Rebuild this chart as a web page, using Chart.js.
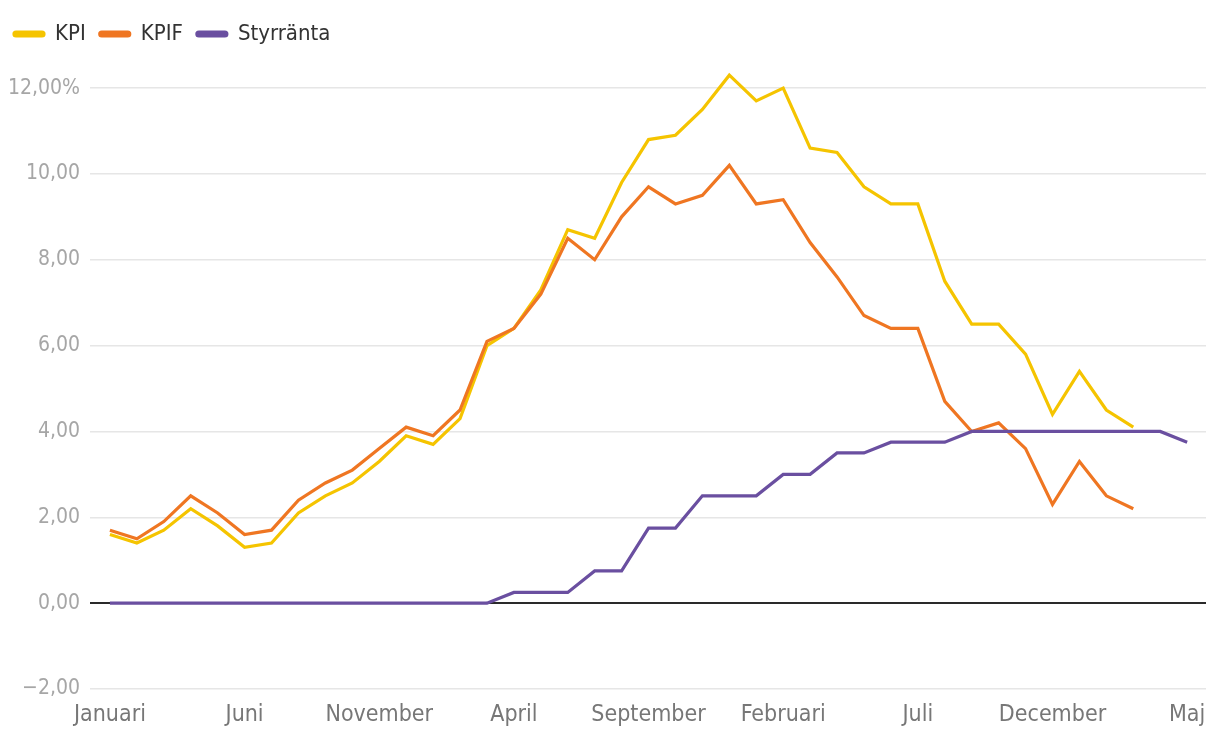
<!DOCTYPE html>
<html>
<head>
<meta charset="utf-8">
<script src="https://cdn.jsdelivr.net/npm/chart.js@4"></script>
<style>
html,body{margin:0;padding:0;background:#fff;}
#wrap{width:1220px;height:742px;position:relative;}
</style>
</head>
<body>
<div id="wrap"><canvas id="c" width="1220" height="742"></canvas></div>
<script>
const months = ["Januari","Februari","Mars","April","Maj","Juni","Juli","Augusti","September","Oktober","November","December",
"Januari","Februari","Mars","April","Maj","Juni","Juli","Augusti","September","Oktober","November","December",
"Januari","Februari","Mars","April","Maj","Juni","Juli","Augusti","September","Oktober","November","December",
"Januari","Februari","Mars","April","Maj"];
const tickIndices = [0,5,10,15,20,25,30,35,40];
const kpi = [1.6,1.4,1.7,2.2,1.8,1.3,1.4,2.1,2.5,2.8,3.3,3.9,
3.7,4.3,6.0,6.4,7.3,8.7,8.5,9.8,10.8,10.9,11.5,12.3,
11.7,12.0,10.6,10.5,9.7,9.3,9.3,7.5,6.5,6.5,5.8,4.4,
5.4,4.5,4.1];
const kpif = [1.7,1.5,1.9,2.5,2.1,1.6,1.7,2.4,2.8,3.1,3.6,4.1,
3.9,4.5,6.1,6.4,7.2,8.5,8.0,9.0,9.7,9.3,9.5,10.2,
9.3,9.4,8.4,7.6,6.7,6.4,6.4,4.7,4.0,4.2,3.6,2.3,
3.3,2.5,2.2];
const styr = [0,0,0,0,0,0,0,0,0,0,0,0,
0,0,0,0.25,0.25,0.25,0.75,0.75,1.75,1.75,2.5,2.5,
2.5,3.0,3.0,3.5,3.5,3.75,3.75,3.75,4.0,4.0,4.0,4.0,
4.0,4.0,4.0,4.0,3.75];
const yTicks = [-2,0,2,4,6,8,10,12];

const toXY = arr => arr.map((v,i)=>({x:i,y:v}));
const FONT = "'DejaVu Sans Condensed','Roboto',sans-serif";

new Chart(document.getElementById('c'), {
  type: 'line',
  data: {
    datasets: [
      {label:'KPI', data: toXY(kpi), borderColor:'#F5C400', backgroundColor:'#F5C400', order:2},
      {label:'KPIF', data: toXY(kpif), borderColor:'#EF7622', backgroundColor:'#EF7622', order:1},
      {label:'Styrränta', data: toXY(styr), borderColor:'#6A4FA0', backgroundColor:'#6A4FA0', order:0}
    ]
  },
  options: {
    responsive: false,
    animation: false,
    devicePixelRatio: 1,
    elements: {
      line: {borderWidth: 3.2, tension: 0, fill: false},
      point: {radius: 0, hoverRadius: 0}
    },
    layout: {padding: {top: 9, right: 14, bottom: 9, left: 0}},
    plugins: {
      tooltip: {enabled: false},
      legend: {
        position: 'top',
        align: 'start',
        labels: {
          sort: (a, b) => a.datasetIndex - b.datasetIndex,
          boxWidth: 30,
          boxHeight: 4,
          useBorderRadius: true,
          borderRadius: 2,
          padding: 14,
          color: '#333',
          font: {family: FONT, size: 22}
        }
      }
    },
    scales: {
      x: {
        type: 'linear',
        min: -0.74,
        max: 40.7,
        grid: {display: false, drawTicks: false},
        border: {display: false},
        afterBuildTicks: s => { s.ticks = tickIndices.map(v => ({value: v})); },
        afterFit: s => { s.height = 44; },
        ticks: {
          autoSkip: false,
          maxRotation: 0,
          padding: 12,
          color: '#777',
          font: {family: FONT, size: 23},
          callback: v => months[v]
        }
      },
      y: {
        min: -2,
        max: 12.77,
        afterBuildTicks: s => { s.ticks = yTicks.map(v => ({value: v})); },
        afterFit: s => { s.width = 90; },
        grid: {
          drawTicks: false,
          color: c => c.tick && c.tick.value === 0 ? '#2a2a2a' : '#e6e6e6',
          lineWidth: c => c.tick && c.tick.value === 0 ? 2 : 1.5
        },
        border: {display: false},
        ticks: {
          padding: 10,
          color: '#a6a6a6',
          font: {family: FONT, size: 21},
          callback: v => {
            const s = Math.abs(v).toFixed(2).replace('.', ',');
            const t = (v < 0 ? '\u2212' : '') + s;
            return v === 12 ? t + '%' : t;
          }
        }
      }
    }
  }
});
</script>
</body>
</html>
